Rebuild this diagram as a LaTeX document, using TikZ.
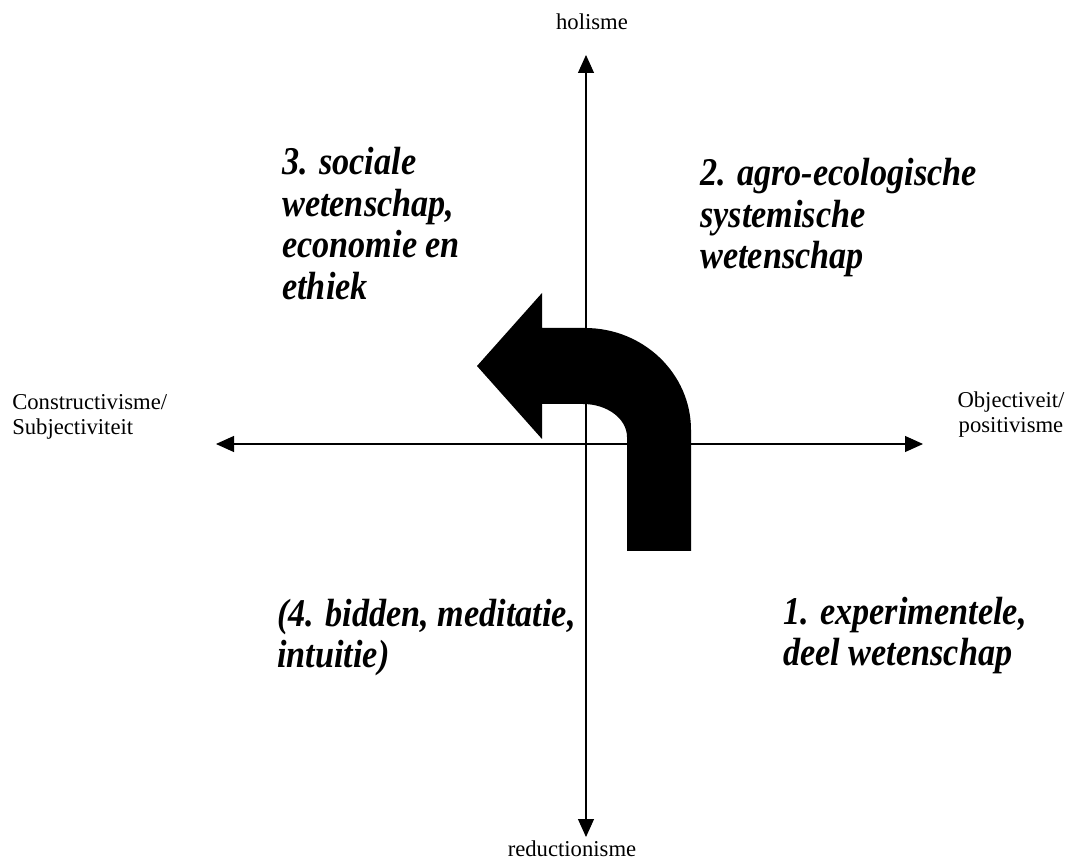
\documentclass[tikz,border=0pt]{standalone}
\usepackage{fontspec}
\setmainfont{Liberation Serif}
\newfontfamily\qfont[FakeStretch=0.87]{Liberation Serif}
\usetikzlibrary{arrows.meta}
\tikzset{
  axis/.style={line width=0.8pt, {Triangle[length=13.5pt,width=12pt]}-{Triangle[length=13.5pt,width=12pt]}},
  smalllabel/.style={inner sep=0pt, font=\fontsize{17}{18.75}\selectfont},
  quadlabel/.style={inner sep=0pt, anchor=base west, font=\qfont\bfseries\itshape\fontsize{29.5}{31.1}\selectfont},
  bendarrow/.style={fill=black}
}
\begin{document}
\begin{tikzpicture}[x=0.75pt,y=-0.75pt]
\useasboundingbox (0,0) rectangle (1071,862);
% axis end points
\coordinate (top) at (586,55);
\coordinate (bot) at (586,837);
\coordinate (lft) at (216,444);
\coordinate (rgt) at (923,444);
\draw[axis] (bot) -- (top);
\draw[axis] (lft) -- (rgt);
% bent arrow
\fill[bendarrow] (627,551) -- (691,551) -- (691,430)
  .. controls (691,373.7) and (643.5,328) .. (585,328)
  -- (542,328) -- (542,293) -- (477,366) -- (542,439) -- (542,404) -- (583,404)
  .. controls (607.3,404) and (627,418.8) .. (627,437) -- cycle;
% axis labels
\node[smalllabel, anchor=base] (hol) at (592,30) {holisme};
\node[smalllabel, anchor=base] (red) at (572,856) {reductionisme};
\node[smalllabel, anchor=base west] (con) at (12,410) {\begin{tabular}[t]{@{}l@{}}Constructivisme/\\Subjectiviteit\end{tabular}};
\node[smalllabel, anchor=base] (obj) at (1011,408) {\begin{tabular}[t]{@{}c@{}}Objectiveit/\\positivisme\end{tabular}};
% quadrant labels
\node[quadlabel] (q3) at (282,175) {\begin{tabular}[t]{@{}l@{}}3. sociale\\wetenschap,\\economie en\\ethiek\end{tabular}};
\node[quadlabel] (q2) at (700,186) {\begin{tabular}[t]{@{}l@{}}2. agro-ecologische\\systemische\\wetenschap\end{tabular}};
\node[quadlabel] (q4) at (277,626) {\begin{tabular}[t]{@{}l@{}}(4. bidden, meditatie,\\intuitie)\end{tabular}};
\node[quadlabel] (q1) at (783,624) {\begin{tabular}[t]{@{}l@{}}1. experimentele,\\deel wetenschap\end{tabular}};
\end{tikzpicture}
\end{document}
